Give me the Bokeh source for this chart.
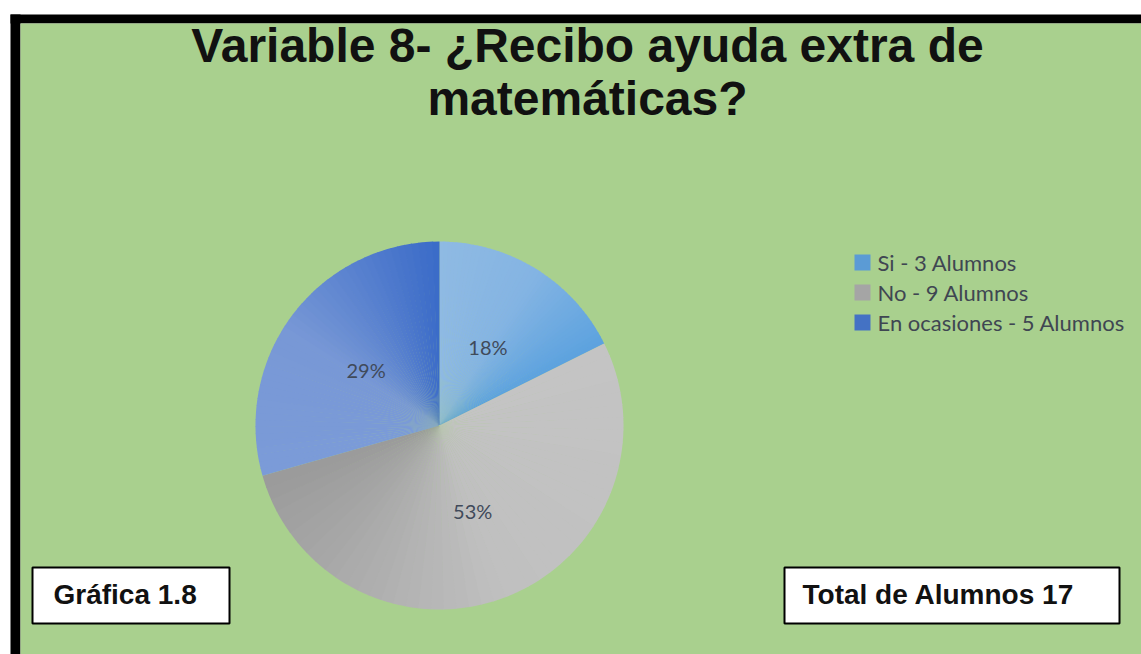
import math
from bokeh.plotting import figure
from bokeh.models import Range1d, ColumnDataSource
from bokeh.core.properties import value
from bokeh.embed import file_html
from bokeh.resources import INLINE

# ---- data ----
categories = ["Si", "No", "En ocasiones"]
alumnos = [3, 9, 5]
legend_labels = ["Si - 3 Alumnos", "No - 9 Alumnos", "En ocasiones - 5 Alumnos"]
legend_colors = ["#5b9bd5", "#a5a5a5", "#4472c4"]
title_lines = ["Variable 8- ¿Recibo ayuda extra de", "matemáticas?"]
box_left_text = "Gráfica 1.8"
box_right_text = "Total de Alumnos 17"

# ---- style: per-slice gradient stops (position along slice, colour) ----
gradient_si = [(0.0, "#8fbae3"), (0.5, "#84b4e3"), (1.0, "#5ca2df")]
gradient_no = [(0.0, "#c4c4c4"), (0.5, "#c0c0c0"), (1.0, "#9a9a9a")]
gradient_en = [(0.0, "#7b9bd8"), (0.45, "#7898d6"), (1.0, "#3a6bc8")]
gradients = [gradient_si, gradient_no, gradient_en]

W, H = 1141, 654

def Y(py):
    return H - py

def hex2rgb(h):
    h = h.lstrip("#")
    return [int(h[i:i + 2], 16) for i in (0, 2, 4)]

def interp(stops, t):
    for (t0, c0), (t1, c1) in zip(stops[:-1], stops[1:]):
        if t0 <= t <= t1:
            u = (t - t0) / (t1 - t0) if t1 > t0 else 0
            a, b = hex2rgb(c0), hex2rgb(c1)
            return "#%02x%02x%02x" % tuple(round(a[k] + (b[k] - a[k]) * u) for k in range(3))
    return stops[-1][1]

p = figure(width=W, height=H, output_backend="svg", toolbar_location=None,
           x_range=Range1d(0, W), y_range=Range1d(0, H), min_border=0)
p.axis.visible = False
p.grid.visible = False
p.outline_line_color = None
p.background_fill_color = "white"
p.border_fill_color = "white"

# frame: black border (left + top) and green panel
p.quad(left=[10, 10], right=[20, W], top=[Y(14), Y(14)], bottom=[0, Y(23)],
       fill_color="black", line_color=None)
p.quad(left=[20], right=[W], top=[Y(23)], bottom=[0],
       fill_color="#a9d08e", line_color=None)

# title
p.text(x=[587, 587], y=[Y(45), Y(98)], text=title_lines,
       text_font=value("Liberation Sans"), text_font_style="bold",
       text_font_size="48px", text_align="center", text_baseline="middle",
       text_color="#111111")

# pie (clockwise from 12 o'clock), each slice shaded with a gradient
total = sum(alumnos)
cx, cy, r = 439, Y(425), 184
fr = [v / total for v in alumnos]
seg_start, seg_end, seg_color = [], [], []
lx, ly, pct = [], [], []
N = 48
cum = 0.0
for f, stops in zip(fr, gradients):
    a0 = math.pi / 2 - cum * 2 * math.pi          # slice start (clockwise)
    a1 = math.pi / 2 - (cum + f) * 2 * math.pi    # slice end
    for k in range(N):
        s_hi = a0 + (a1 - a0) * k / N
        s_lo = a0 + (a1 - a0) * (k + 1) / N
        seg_start.append(s_lo - (0.004 if k < N - 1 else 0))
        seg_end.append(s_hi)
        seg_color.append(interp(stops, (k + 0.5) / N))
    mid = (a0 + a1) / 2
    lx.append(cx + 0.5 * r * math.cos(mid))
    ly.append(cy + 0.5 * r * math.sin(mid))
    pct.append(f"{round(f * 100)}%")
    cum += f

seg_src = ColumnDataSource(dict(start=seg_start, end=seg_end, color=seg_color))
p.wedge(x=cx, y=cy, radius=r, start_angle="start", end_angle="end",
        fill_color="color", line_color=None, source=seg_src)

lab_src = ColumnDataSource(dict(lx=lx, ly=ly, pct=pct))
p.text(x="lx", y="ly", text="pct", source=lab_src, text_font=value("Lato"),
       text_font_size="20px", text_align="center", text_baseline="middle",
       text_color="#404a5a")

# legend
leg_y = [Y(262 + i * 30) for i in range(len(categories))]
p.rect(x=[862] * len(categories), y=leg_y, width=16, height=16,
       fill_color=legend_colors, line_color=None)
p.text(x=[877] * len(categories), y=leg_y, text=legend_labels,
       text_font=value("Lato"), text_font_size="22px", text_align="left",
       text_baseline="middle", text_color="#3f4652")

# boxes
p.quad(left=[32, 784], right=[229, 1119], top=[Y(567), Y(567)],
       bottom=[Y(623), Y(623)], fill_color="white", line_color="black",
       line_width=2)
p.text(x=[53, 802], y=[Y(594), Y(594)], text=[box_left_text, box_right_text],
       text_font=value("Liberation Sans"), text_font_style="bold",
       text_font_size="28px", text_align="left", text_baseline="middle",
       text_color="#111111")

open("out.html", "w").write(file_html(p, INLINE))
